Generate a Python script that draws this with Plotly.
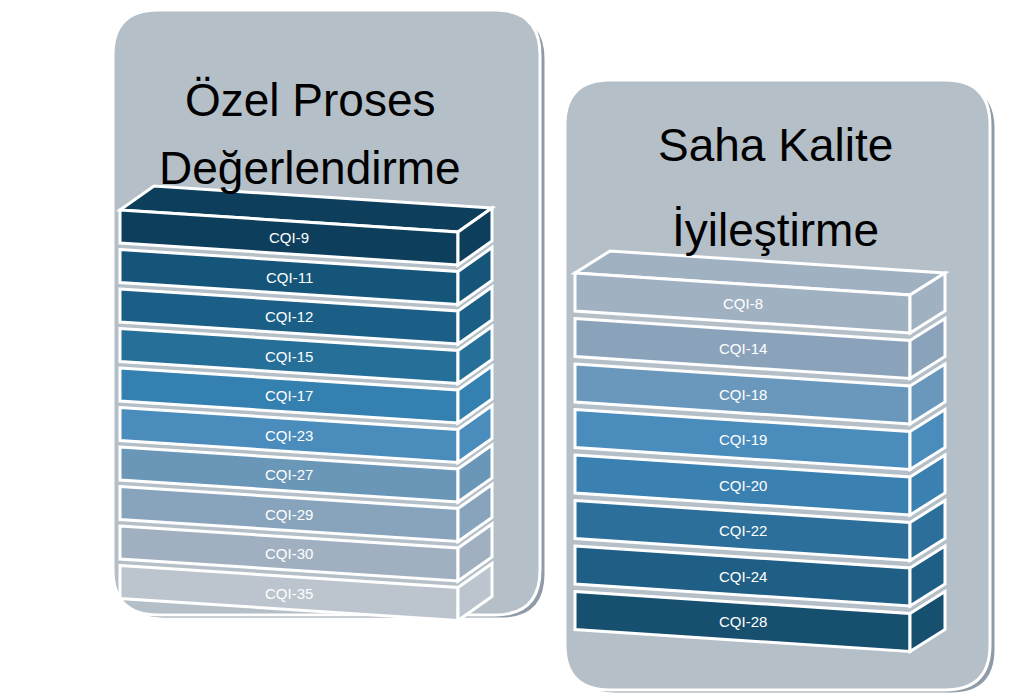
import plotly.graph_objects as go

left_title = ["Özel Proses", "Değerlendirme"]
left_labels = ["CQI-9", "CQI-11", "CQI-12", "CQI-15", "CQI-17", "CQI-23", "CQI-27", "CQI-29", "CQI-30", "CQI-35"]
left_colors = ["#0d3e5c", "#15557a", "#1b5f86", "#256f99", "#3480b0", "#4a8cbc", "#6a96b8", "#88a3bc", "#a1b0c0", "#bcc5ce"]

right_title = ["Saha Kalite", "İyileştirme"]
right_labels = ["CQI-8", "CQI-14", "CQI-18", "CQI-19", "CQI-20", "CQI-22", "CQI-24", "CQI-28"]
right_colors = ["#a0b1c2", "#8aa3bb", "#6a98bd", "#4a8cbc", "#3a80b1", "#2c6f9a", "#1f5f86", "#17506f"]

fig = go.Figure()
shapes = []
annos = []


def rounded(x0, y0, x1, y1, r):
    return (f"M {x0+r},{y0} L {x1-r},{y0} Q {x1},{y0} {x1},{y0+r} L {x1},{y1-r} "
            f"Q {x1},{y1} {x1-r},{y1} L {x0+r},{y1} Q {x0},{y1} {x0},{y1-r} "
            f"L {x0},{y0+r} Q {x0},{y0} {x0+r},{y0} Z")


def panel(x0, y0, x1, y1):
    shapes.append(dict(type="path", path=rounded(x0 + 6, y0 + 4, x1 + 6, y1 + 4, 45),
                       fillcolor="#8f9ba6", line=dict(color="white", width=3), layer="below"))
    shapes.append(dict(type="path", path=rounded(x0, y0, x1, y1, 45),
                       fillcolor="#b4bfc8", line=dict(color="white", width=3), layer="below"))


def stack(labels, colors, x0, x1, top, step, h, tilt, depth, dy):
    for i, (lab, col) in enumerate(zip(labels, colors)):
        y = top + i * step
        if i == 0:
            shapes.append(dict(type="path",
                               path=f"M {x0},{y} L {x0+depth},{y-dy} L {x1+depth},{y+tilt-dy} L {x1},{y+tilt} Z",
                               fillcolor=col, line=dict(color="white", width=3)))
        shapes.append(dict(type="path",
                           path=f"M {x0},{y} L {x1},{y+tilt} L {x1},{y+tilt+h} L {x0},{y+h} Z",
                           fillcolor=col, line=dict(color="white", width=3)))
        shapes.append(dict(type="path",
                           path=f"M {x1},{y+tilt} L {x1+depth},{y+tilt-dy} L {x1+depth},{y+tilt-dy+h} L {x1},{y+tilt+h} Z",
                           fillcolor=col, line=dict(color="white", width=3)))
        annos.append(dict(x=(x0 + x1) / 2, y=y + tilt / 2 + h / 2, text=lab, showarrow=False,
                          font=dict(color="white", size=15, family="Liberation Sans")))


panel(113, 10, 540, 615)
panel(565, 80, 990, 690)
stack(left_labels, left_colors, 120, 458, 210, 39.5, 33, 22, 34, 24)
stack(right_labels, right_colors, 575, 910, 273, 45.5, 38, 22, 35, 22)

for i, t in enumerate(left_title):
    annos.append(dict(x=310, y=100 + i * 68, text=t, showarrow=False,
                      font=dict(color="black", size=46, family="Liberation Sans")))
for i, t in enumerate(right_title):
    annos.append(dict(x=775, y=145 + i * 85, text=t, showarrow=False,
                      font=dict(color="black", size=46, family="Liberation Sans")))

fig.update_layout(
    width=1024, height=698, margin=dict(l=0, r=0, t=0, b=0),
    paper_bgcolor="white", plot_bgcolor="white",
    xaxis=dict(range=[8, 1032], visible=False, fixedrange=True),
    yaxis=dict(range=[706, 8], visible=False, fixedrange=True),
    shapes=shapes, annotations=annos, showlegend=False,
)
fig.write_html("out.html")
